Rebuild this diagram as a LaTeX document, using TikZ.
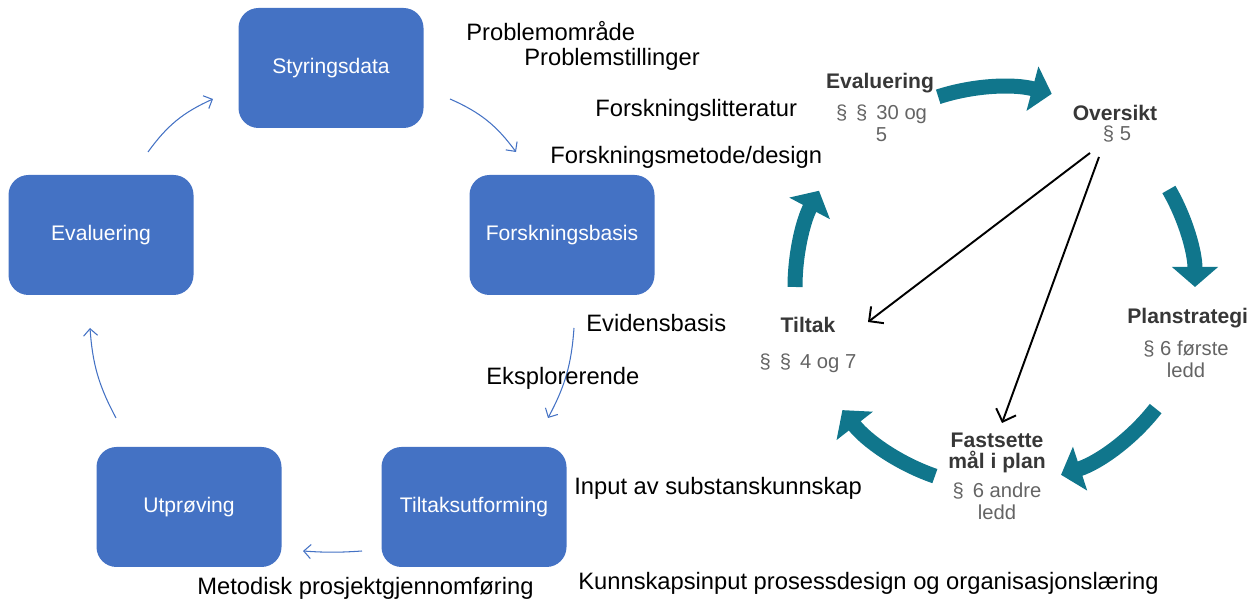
\documentclass[tikz,border=0pt]{standalone}
\usepackage{fontspec}
\setmainfont{Liberation Sans}
\usetikzlibrary{arrows.meta}
\definecolor{boxblue}{RGB}{68,114,196}
\definecolor{cycteal}{RGB}{16,118,140}
\definecolor{darkgrey}{RGB}{55,55,55}
\definecolor{midgrey}{RGB}{100,100,100}

\begin{document}
\begin{tikzpicture}[
    box/.style={rectangle, rounded corners=0.4cm, fill=boxblue, text=white, minimum width=3.7cm, minimum height=2.4cm, font=\fontsize{12}{14}\selectfont},
    lbl/.style={anchor=west, inner sep=0pt, font=\fontsize{13.5}{16}\selectfont},
    flow/.style={-{Straight Barb[length=4pt,width=8pt]}, line width=0.6pt, boxblue},
    cyc/.style={-{Triangle[width=0.9cm,length=0.4cm]}, line width=0.3cm, cycteal},
    ttl/.style={inner sep=0pt, font=\fontsize{12}{12}\selectfont\bfseries, text=darkgrey},
    note/.style={inner sep=0pt, align=center, font=\fontsize{11.5}{12.5}\selectfont, text=midgrey},
    pointer/.style={-{Straight Barb[length=6pt,width=12pt]}, line width=1.1pt}
]
\clip (0,0) rectangle (25.02,12.04);

% Boxes
\foreach \n/\t/\x/\y in {Styringsdata/Styringsdata/6.62/10.68, Evaluering/Evaluering/2.02/7.34, Forskningsbasis/Forskningsbasis/11.24/7.34, Utproving/Utprøving/3.78/1.90, Tiltaksutforming/Tiltaksutforming/9.48/1.90}{
    \node[box] (\n) at (\x,\y) {\t};
}

% Arrow ends
\coordinate (e1) at (2.96,9.00);  \coordinate (s1) at (4.26,10.06);
\coordinate (s2) at (9.00,10.06); \coordinate (f2) at (10.32,9.00);
\coordinate (f3) at (11.48,5.48); \coordinate (t3) at (10.96,3.68);
\coordinate (t4) at (7.24,1.02);  \coordinate (u4) at (6.06,1.02);
\coordinate (u5) at (2.32,3.68);  \coordinate (e5) at (1.80,5.48);

\draw[flow] (e1) to[bend left=15] (s1);
\draw[flow] (s2) to[bend left=15] (f2);
\draw[flow] (f3) to[bend left=12] (t3);
\draw[flow] (t4) to[bend left=4] (u4);
\draw[flow] (u5) to[bend left=12] (e5);

% Labels
\node[lbl] (omraade) at (9.32,11.41) {Problemområde};
\node[lbl] (stilling) at (10.48,10.86) {Problemstillinger};
\node[lbl] (litt) at (11.90,9.84) {Forskningslitteratur};
\node[lbl] (metode) at (11.00,8.90) {Forskningsmetode/design};
\node[lbl] (evidens) at (11.72,5.58) {Evidensbasis};
\node[lbl] (eksplor) at (9.72,4.48) {Eksplorerende};
\node[lbl] (input) at (11.48,2.28) {Input av substanskunnskap};
\node[lbl] (metodisk) at (3.94,0.28) {Metodisk prosjektgjennomføring};
\node[lbl] (kunnskap) at (11.56,0.38) {Kunnskapsinput prosessdesign og organisasjonslæring};

% Plan cycle
\begin{scope}[shift={(20.0,6.30)}]
\coordinate (c1) at (108:4cm);
\coordinate (c2) at (30:3.9cm);
\coordinate (c3) at (-38:3.95cm);
\coordinate (c4) at (-109:4cm);
\coordinate (c5) at (180:4.1cm);
\draw[cyc] (c1) arc (108:75:4cm);
\draw[cyc] (c2) arc (30:0:3.9cm);
\draw[cyc] (c3) arc (-38:-72:3.95cm);
\draw[cyc] (c4) arc (-109:-142:4cm);
\draw[cyc] (c5) arc (180:152:4.1cm);
\end{scope}

\node[ttl] (EvalT) at (17.60,10.38) {Evaluering};
\node[note] (EvalN) at (17.63,9.57) {§ \,§ \,30 og\\5};
\node[ttl] (OversiktT) at (22.30,9.78) {Oversikt};
\node[note] (OversiktN) at (22.34,9.36) {§ 5};
\node[ttl, anchor=west] (PlanT) at (22.54,5.68) {Planstrategi};
\node[note] (PlanN) at (23.72,4.85) {§ 6 første\\ledd};
\node[ttl] (TiltakT) at (16.16,5.54) {Tiltak};
\node[note] (TiltakN) at (16.16,4.78) {§ \,§ \,4 og 7};
\node[ttl, align=center, font=\fontsize{12}{11.5}\selectfont\bfseries] (FastT) at (19.94,2.98) {Fastsette\\mål i plan};
\node[note] (FastN) at (19.94,2.02) {§ \,6 andre\\ledd};

% Pointers
\coordinate (o1) at (21.80,8.98); \coordinate (t1) at (17.36,5.60);
\coordinate (o2) at (21.98,8.90); \coordinate (f1) at (20.04,3.58);
\draw[pointer] (o1) -- (t1);
\draw[pointer] (o2) -- (f1);

\end{tikzpicture}
\end{document}
